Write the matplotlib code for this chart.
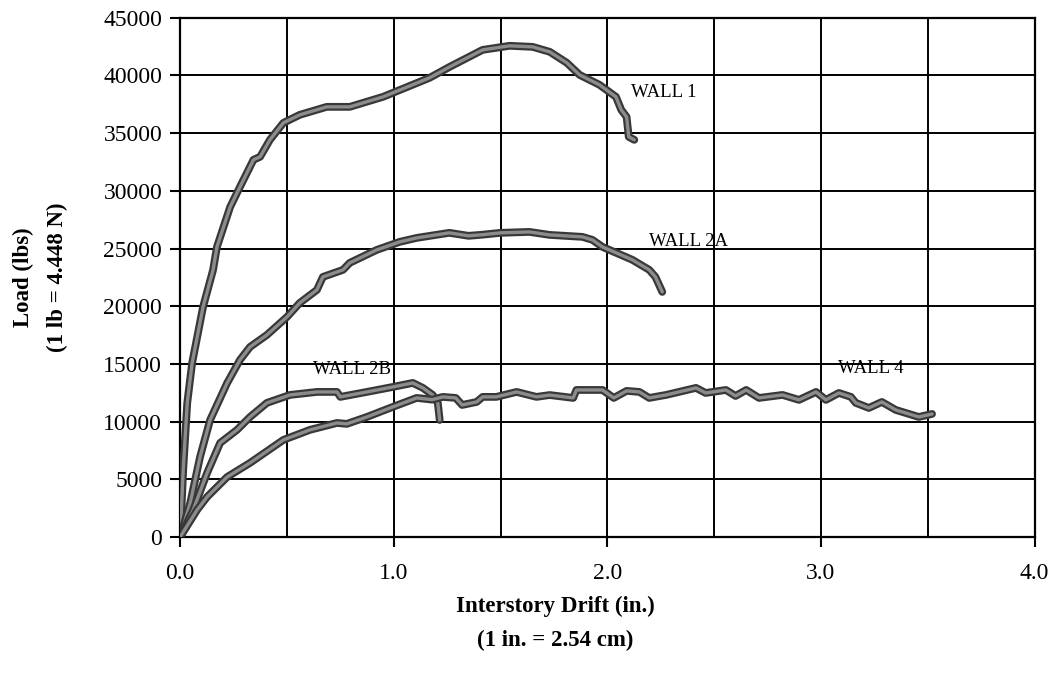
import matplotlib
matplotlib.use("Agg")
import matplotlib.pyplot as plt
import matplotlib.patheffects as pe
import numpy as np

# ---- data ----
wall1_x = [0.0, 0.014, 0.033, 0.056, 0.107, 0.154, 0.172, 0.234, 0.28, 0.343, 0.374, 0.42, 0.483,
           0.56, 0.686, 0.794, 0.95, 1.168, 1.262, 1.416, 1.542, 1.65, 1.73, 1.81, 1.87, 1.963,
           2.04, 2.065, 2.09, 2.10, 2.126]
wall1_y = [0, 5800, 11620, 15090, 19940, 23150, 25140, 28610, 30350, 32690, 32950, 34420, 35890,
           36590, 37280, 37280, 38150, 39800, 40750, 42220, 42570, 42480, 42050, 41100, 40050, 39190,
           38150, 37020, 36410, 34680, 34420]

wall2a_x = [0.0, 0.047, 0.093, 0.14, 0.22, 0.28, 0.327, 0.406, 0.5, 0.56, 0.64, 0.668, 0.762, 0.794,
            0.92, 1.028, 1.107, 1.26, 1.35, 1.416, 1.5, 1.635, 1.73, 1.883, 1.93, 1.977, 2.117,
            2.196, 2.225, 2.257]
wall2a_y = [0, 2950, 6940, 10140, 13350, 15350, 16470, 17510, 19070, 20290, 21410, 22540, 23150, 23760,
            24880, 25580, 25920, 26360, 26100, 26200, 26360, 26440, 26180, 26010, 25750, 25140, 24020,
            23150, 22540, 21240]

wall2b_x = [0.0, 0.061, 0.126, 0.187, 0.266, 0.327, 0.406, 0.514, 0.64, 0.734, 0.75, 0.874, 0.995,
            1.089, 1.136, 1.182, 1.206, 1.215]
wall2b_y = [0, 2340, 5550, 8150, 9280, 10400, 11620, 12310, 12570, 12570, 12140, 12570, 13000,
            13350, 12920, 12310, 11620, 10140]

wall4_x = [0.0, 0.079, 0.126, 0.22, 0.327, 0.483, 0.607, 0.734, 0.78, 0.874, 0.995, 1.107, 1.18, 1.23,
           1.29, 1.32, 1.388, 1.416, 1.48, 1.575, 1.668, 1.73, 1.84, 1.855, 1.977, 2.03, 2.09, 2.15,
           2.196, 2.275, 2.415, 2.46, 2.555, 2.60, 2.65, 2.71, 2.82, 2.897, 2.977, 3.023, 3.084,
           3.14, 3.163, 3.224, 3.285, 3.35, 3.458, 3.52]
wall4_y = [0, 2340, 3470, 5200, 6420, 8410, 9280, 9880, 9800, 10400, 11270, 12050, 11900, 12140,
           12050, 11440, 11700, 12140, 12140, 12570, 12140, 12300, 12050, 12740, 12740, 12050, 12660, 12570,
           12050, 12310, 12920, 12480, 12740, 12220, 12740, 12050, 12310, 11880, 12570, 11880, 12480,
           12140, 11620, 11180, 11700, 11010, 10400, 10660]

labels = ["WALL 1", "WALL 2A", "WALL 2B", "WALL 4"]
label_x = [2.11, 2.196, 0.62, 3.08]
label_y = [38500, 25580, 14480, 14570]

x_ticks = [0.0, 1.0, 2.0, 3.0, 4.0]
x_ticklabels = ["0.0", "1.0", "2.0", "3.0", "4.0"]
y_ticks = list(range(0, 45001, 5000))

# ---- figure ----
plt.rcParams['font.family'] = ['Liberation Serif', 'DejaVu Serif']
fig = plt.figure(figsize=(10.6, 6.84), dpi=100)
ax = fig.add_axes([0.170, 0.215, 0.806, 0.759])

ax.set_xlim(0, 4.0)
ax.set_ylim(0, 45000)

effects = [pe.Stroke(linewidth=5.6, foreground='#383838'), pe.Normal()]
for xs, ys in [(wall1_x, wall1_y), (wall2a_x, wall2a_y), (wall2b_x, wall2b_y), (wall4_x, wall4_y)]:
    ax.plot(xs, ys, color='#8c8c8c', linewidth=2.4, solid_capstyle='round',
            solid_joinstyle='round', path_effects=effects, zorder=3)

for t, lx, ly in zip(labels, label_x, label_y):
    ax.text(lx, ly, t, fontsize=13.5, ha='left', va='center', color='black', zorder=4)

ax.set_xticks(x_ticks)
ax.set_xticklabels(x_ticklabels)
ax.set_xticks(np.arange(0, 4.01, 0.5), minor=True)
ax.set_yticks(y_ticks)
ax.set_yticklabels([str(v) for v in y_ticks])
ax.tick_params(axis='both', which='major', direction='out', length=7, width=1.5,
               labelsize=17, colors='black')
ax.tick_params(axis='x', which='major', pad=12)
ax.tick_params(axis='y', which='major', pad=6)
ax.tick_params(axis='x', which='minor', length=0)
ax.grid(True, which='both', axis='x', color='black', linewidth=1.4)
ax.grid(True, which='major', axis='y', color='black', linewidth=1.4)
ax.set_axisbelow(True)
for s in ax.spines.values():
    s.set_linewidth(1.6)
    s.set_color('black')

fig.text(0.524, 0.113, "Interstory Drift (in.)", ha='center', va='center',
         fontsize=16.5, fontweight='bold')
fig.text(0.524, 0.064, "(1 in. = 2.54 cm)", ha='center', va='center',
         fontsize=16.5, fontweight='bold')
fig.text(0.022, 0.595, "Load (lbs)", ha='center', va='center', rotation=90,
         fontsize=16.5, fontweight='bold')
fig.text(0.054, 0.595, "(1 lb = 4.448 N)", ha='center', va='center', rotation=90,
         fontsize=16.5, fontweight='bold')

fig.savefig("out.png", dpi=100)
